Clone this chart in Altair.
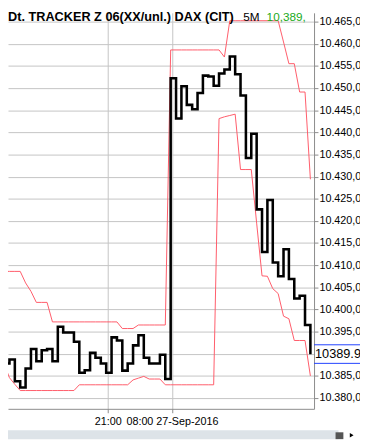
import altair as alt
import pandas as pd

# ---- data (DAX points, 5-minute bars) ----
close = [10397.2, 10387.8, 10388.7, 10383.8, 10382.4, 10386.7, 10391.1, 10388.3, 10390.8, 10391.1,
         10388.3, 10396.1, 10394.8, 10394.8, 10392.7, 10385.7, 10386.3, 10390.2, 10389.1, 10387.8,
         10385.7, 10393.7, 10393.0, 10386.2, 10387.8, 10391.9, 10394.2, 10389.1, 10387.8, 10387.8,
         10389.8, 10384.3, 10452.2, 10443.1, 10450.4, 10446.2, 10445.2, 10448.9, 10452.8, 10452.6,
         10450.5, 10453.3, 10454.2, 10457.1, 10453.1, 10448.3, 10434.2, 10439.7, 10422.6, 10413.0,
         10424.7, 10410.6, 10407.5, 10413.6, 10406.9, 10402.5, 10403.1, 10396.5, 10389.9]
upper = [10408.6, 10408.6, 10408.6, 10408.6, 10408.6, 10406.0, 10404.1, 10401.6, 10401.6, 10401.6,
         10397.2, 10397.2, 10397.2, 10397.2, 10397.2, 10397.2, 10397.2, 10397.2, 10397.2, 10397.2,
         10397.2, 10397.2, 10397.2, 10395.7, 10395.7, 10395.7, 10396.5, 10396.5, 10396.5, 10396.5,
         10396.5, 10396.5, 10458.6, 10458.6, 10458.6, 10458.6, 10458.6, 10458.6, 10458.6, 10458.6,
         10458.6, 10458.6, 10457.0, 10465.2, 10465.2, 10465.2, 10465.2, 10465.2, 10465.2, 10465.2,
         10465.2, 10465.2, 10465.2, 10460.4, 10455.5, 10455.5, 10449.1, 10449.1, 10429.4]
lower = [10401.1, 10387.7, 10384.6, 10383.1, 10381.7, 10381.7, 10381.7, 10381.7, 10381.7, 10381.7,
         10381.7, 10381.7, 10381.7, 10381.7, 10381.7, 10383.0, 10383.0, 10383.0, 10383.0, 10383.0,
         10383.0, 10383.0, 10383.0, 10383.0, 10383.0, 10384.1, 10384.5, 10384.9, 10384.3, 10384.3,
         10384.3, 10383.0, 10383.0, 10383.0, 10383.0, 10383.0, 10383.0, 10383.0, 10383.0, 10383.0,
         10383.0, 10443.1, 10443.5, 10443.8, 10444.1, 10431.6, 10431.6, 10431.6, 10419.5, 10407.6,
         10407.5, 10404.7, 10403.6, 10398.5, 10397.9, 10393.0, 10393.0, 10393.0, 10385.0]
y_ticks = [10380, 10385, 10390, 10395, 10400, 10405, 10410, 10415, 10420,
           10425, 10430, 10435, 10440, 10445, 10450, 10455, 10460, 10465]
x_tick_pos = [20.29, 32.24]
x_tick_labels = ["21:00", "08:00 27-Sep-2016"]
title_name = "Dt. TRACKER Z 06(XX/unl.) DAX (CIT)"
title_period = "5M"
title_price = "10,389,"
last_price_label = "10389.9"
hidden_tick = 10390  # label covered by the last-price box

rows = []
for name, arr in (("close", close), ("upper", upper), ("lower", lower)):
    for i, v in enumerate(arr):
        rows.append({"i": i, "v": v, "s": name})
df = pd.DataFrame(rows)

FONT = "Liberation Sans"
RED = "#ff5a68"
GRID = "#c4c4c4"

label_expr = ""
for p, l in zip(x_tick_pos, x_tick_labels):
    label_expr += f"abs(datum.value - {p}) < 0.01 ? '{l}' : "
label_expr += "''"

xscale = alt.Scale(domain=[1.7285, 58.68], nice=False, zero=False)
yscale = alt.Scale(domain=[10377.57, 10466.98], nice=False, zero=False)

xaxis = alt.Axis(values=x_tick_pos, labelExpr=label_expr, grid=True, gridColor=GRID,
                 domainColor="#8a8a8a", tickColor="#8a8a8a", tickSize=4, labelFont=FONT,
                 labelFontSize=11, labelColor="black", labelPadding=3, title=None,
                 orient="bottom", labelOverlap=False, labelFlush=False)
yaxis = alt.Axis(values=y_ticks, orient="right", grid=True, gridColor=GRID,
                 domainColor="#8a8a8a", tickColor="#8a8a8a", tickSize=4, labelFont=FONT,
                 labelFontSize=11, labelColor="black", labelPadding=1, title=None,
                 labelOverlap=False, labelFlush=False, labelBaseline="middle",
                 labelExpr=f"datum.value == {hidden_tick} ? '' : "
                           "replace(replace(replace(format(datum.value, ',.2f'), ',', '#'), '.', ','), '#', '.')")

X = alt.X("i:Q", scale=xscale, axis=xaxis)
Y = alt.Y("v:Q", scale=yscale, axis=yaxis)

bands = alt.Chart(df).transform_filter("datum.s != 'close'").mark_line(
    color=RED, strokeWidth=1, clip=True).encode(x=X, y=Y, detail="s:N")
price = alt.Chart(df).transform_filter("datum.s == 'close'").mark_line(
    color="black", strokeWidth=2.6, interpolate="step-after", clip=True).encode(x=X, y=Y)

one = pd.DataFrame({"a": [0]})
t1 = alt.Chart(one).mark_text(text=title_name, align="left", baseline="alphabetic", font=FONT,
                              fontSize=13, fontWeight="bold", color="black").encode(
    x=alt.value(0), y=alt.value(8.7))
t2 = alt.Chart(one).mark_text(text=title_period, align="left", baseline="alphabetic", font=FONT,
                              fontSize=12, color="black").encode(x=alt.value(240.5), y=alt.value(8.7))
t3 = alt.Chart(one).mark_text(text=title_price, align="left", baseline="alphabetic", font=FONT,
                              fontSize=12, color="#1aaa1a").encode(x=alt.value(264.5), y=alt.value(8.7))

box = alt.Chart(one).mark_rect(color="white").encode(
    x=alt.value(314), x2=alt.value(362), y=alt.value(339.5), y2=alt.value(357.5))
blue1 = alt.Chart(one).mark_rule(color="#1f3fff", strokeWidth=1).encode(
    x=alt.value(313), x2=alt.value(362), y=alt.value(339.5))
blue2 = alt.Chart(one).mark_rule(color="#1f3fff", strokeWidth=1).encode(
    x=alt.value(313), x2=alt.value(362), y=alt.value(358.5))
ptxt = alt.Chart(one).mark_text(text=last_price_label, align="left", baseline="middle", font=FONT,
                                fontSize=13, color="black").encode(
    x=alt.value(314), y=alt.value(349.5))

scroll = alt.Chart(one).mark_rect(color="#dde3e8").encode(
    x=alt.value(-8), x2=alt.value(338), y=alt.value(427), y2=alt.value(436))
thumb = alt.Chart(one).mark_rect(color="#555555").encode(
    x=alt.value(335), x2=alt.value(343), y=alt.value(429), y2=alt.value(436))
arrow = alt.Chart(one).mark_point(shape="triangle-right", filled=True, color="black", size=20,
                                  opacity=1).encode(x=alt.value(351.5), y=alt.value(432))

chart = alt.layer(bands, price, t1, t2, t3, box, blue1, blue2, ptxt, scroll, thumb, arrow).properties(
    width=313, height=405,
    autosize=alt.AutoSizeParams(type="none"),
    padding={"left": 0, "top": 0, "right": 47, "bottom": 30},
).configure_view(strokeWidth=0)

chart.save("out.html", embed_options={"renderer": "svg", "actions": False})
